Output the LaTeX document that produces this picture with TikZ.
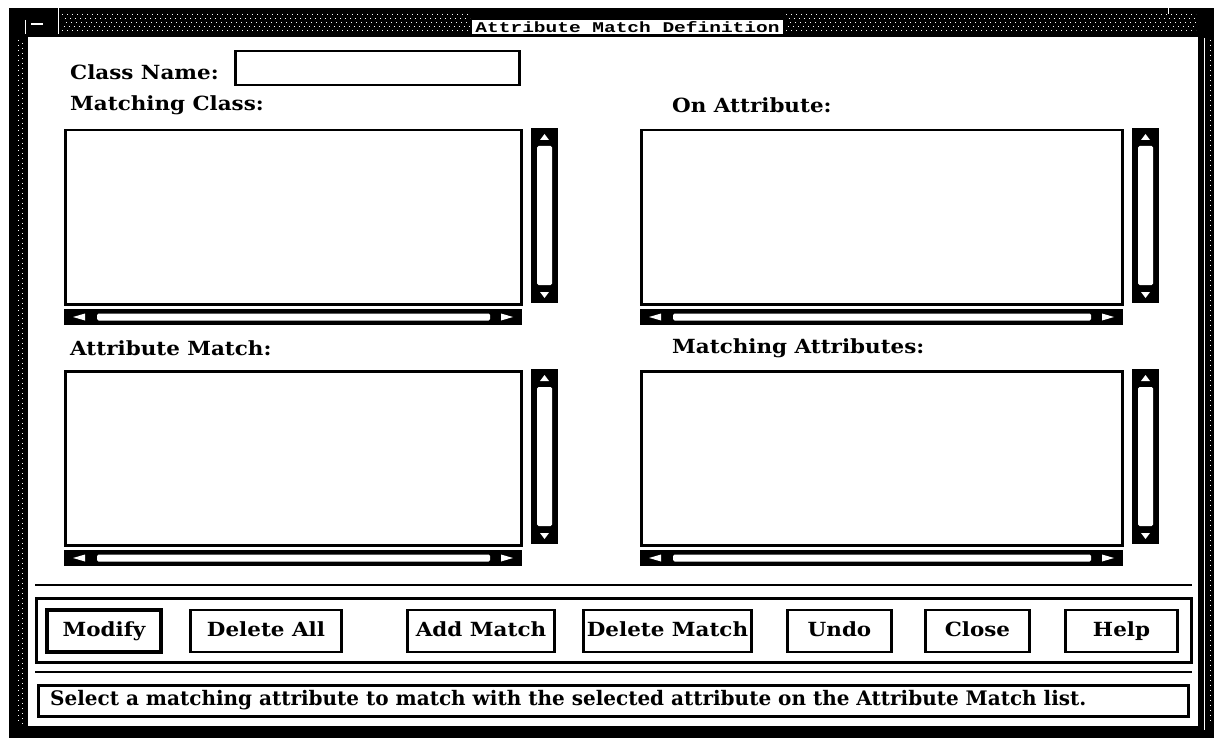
\documentclass[tikz,border=0pt]{standalone}
\usepackage{fontspec}
\setmainfont{DejaVu Serif}[FakeStretch=1.1]
\newfontfamily\plainserif{DejaVu Serif}
\newfontfamily\titlefont{Liberation Mono}
\tikzset{
  win/.style={fill=black},
  listbox/.style={draw, line width=2.5pt, fill=white, inner sep=0pt},
  entrybox/.style={draw, line width=2.5pt, fill=white, inner sep=0pt},
  btn/.style={draw, line width=2.2pt, fill=white, inner sep=0pt, minimum height=42pt, text height=14pt, text depth=4pt, font=\btnfont},
  defbtn/.style={btn, line width=4.5pt},
  lab/.style={anchor=west, inner sep=0pt, font=\labfont},
  stat/.style={anchor=west, inner sep=0pt, font=\statfont},
  rule/.style={line width=2.5pt},
  dots/.style={white, line width=0.9pt, dash pattern=on 1pt off 4pt},
}
\newcommand\labfont{\fontsize{19.5}{22}\selectfont\bfseries}
\newcommand\btnfont{\fontsize{19.5}{22}\selectfont\bfseries}
\newcommand\statfont{\plainserif\fontsize{20}{22}\selectfont\bfseries}
\newcommand\mklist[5]{%
 \begin{scope}[shift={(#2,#3)}]
  \node[listbox, minimum width=#4pt, minimum height=#5pt, anchor=north west] (#1) at (0,0) {};
  \fill[black] (#4+11,-1) rectangle (#4+38,#5);
  \fill[white, rounded corners=1.5pt] (#4+17,17) rectangle (#4+32,#5-18);
  \fill[white] (#4+24.5,5) -- (#4+29,11) -- (#4+20,11) -- cycle;
  \fill[white] (#4+24.5,#5-5) -- (#4+29,#5-11) -- (#4+20,#5-11) -- cycle;
  \fill[black] (0,#5+6) rectangle (#4+2,#5+22);
  \fill[white, rounded corners=1.5pt] (33,#5+10.5) rectangle (#4-30,#5+17.5);
  \fill[white] (9,#5+14) -- (21,#5+10.5) -- (21,#5+17.5) -- cycle;
  \fill[white] (#4-7,#5+14) -- (#4-19,#5+10.5) -- (#4-19,#5+17.5) -- cycle;
 \end{scope}}
\begin{document}
\begin{tikzpicture}[x=1pt,y=-1pt]
\useasboundingbox (0,0) rectangle (1218,738);
% window frame
\fill[win] (9,8) rectangle (1214,738);
\fill[white] (28,37) rectangle (1198,726);
% title bar texture
\foreach \yy/\off in {14/0,18/2,22/1,26/3,30/0}{
  \draw[dots, dash phase=\off pt] (62,\yy) -- (470,\yy);
  \draw[dots, dash phase=\off pt] (786,\yy) -- (1196,\yy);
}
% border texture
\draw[dots] (18,40) -- (18,724);
\draw[dots, dash phase=2pt] (22,40) -- (22,724);
\draw[dots] (1210,40) -- (1210,724);
\draw[white, line width=1pt] (1204,38) -- (1204,730);
\draw[white, line width=1pt] (58,7) -- (58,34);
\draw[white, line width=1pt] (25,20) -- (25,34);
\fill[white] (31,23) rectangle (43,25);
\draw[white, line width=1pt] (1168,8) -- (1168,14);
% title
\fill[white] (472,20) rectangle (783,34.5);
\node[inner sep=0pt, anchor=base] (title) at (627.5,32.5) {\resizebox{304pt}{11pt}{\titlefont\bfseries Attribute Match Definition}};
% class name
\node[lab] (lcn) at (70,72) {Class Name:};
\node[entrybox, minimum width=284pt, minimum height=34pt, anchor=north west] (cn) at (234,50) {};
% labels
\node[lab] (lmc) at (70,105) {Matching Class:};
\node[lab] (loa) at (672,105) {On Attribute:};
\node[lab] (lam) at (70,348) {Attribute Match:};
\node[lab] (lma) at (672,348) {Matching Attributes:};
% lists
\mklist{mc}{64}{129}{456}{174}
\mklist{oa}{640}{129}{481}{174}
\mklist{am}{64}{370}{456}{174}
\mklist{ma}{640}{370}{481}{174}
% separators and button panel
\draw[rule] (35,585) -- (1192,585);
\node[draw, line width=2.5pt, minimum width=1155pt, minimum height=64pt, anchor=north west, inner sep=0pt] (panel) at (35,597) {};
\draw[rule] (35,672) -- (1192,672);
% buttons
\node[defbtn, minimum width=114pt] (bmod) at (104,631) {Modify};
\node[btn, minimum width=151pt] (bdel) at (266,631) {Delete All};
\node[btn, minimum width=147pt] (badd) at (481,631) {Add Match};
\node[btn, minimum width=168pt] (bdm) at (667.5,631) {Delete Match};
\node[btn, minimum width=104pt] (bundo) at (839.5,631) {Undo};
\node[btn, minimum width=104pt] (bclose) at (977.5,631) {Close};
\node[btn, minimum width=112pt] (bhelp) at (1121.5,631) {Help};
% status
\node[draw, line width=2.5pt, minimum width=1150pt, minimum height=31pt, anchor=north west, inner sep=0pt] (status) at (37,684) {};
\node[stat] (stxt) at (50,700) {Select a matching attribute to match with the selected attribute on the Attribute Match list.};
\end{tikzpicture}
\end{document}
